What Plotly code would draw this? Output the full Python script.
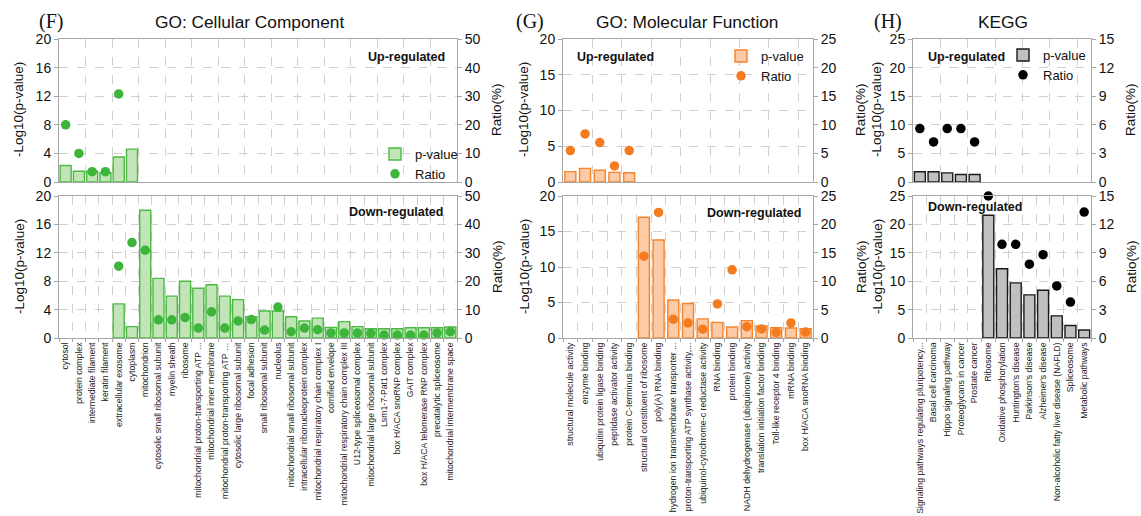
import plotly.graph_objects as go

W, H = 1141, 516

# ---------------- data ----------------
f_cats = ["cytosol", "protein complex", "intermediate filament", "keratin filament",
          "extracellular exosome", "cytoplasm", "mitochondrion",
          "cytosolic small ribosomal subunit", "myelin sheath", "ribosome",
          "mitochondrial proton-transporting ATP ...", "mitochondrial inner membrane",
          "mitochondrial proton-transporting ATP \u2026", "cytosolic large ribosomal subunit",
          "focal adhesion", "small ribosomal subunit", "nucleolus",
          "mitochondrial small ribosomal subunit", "intracellular ribonucleoprotein complex",
          "mitochondrial respiratory chain complex I", "cornified envelope",
          "mitochondrial respiratory chain complex III", "U12-type spliceosomal complex",
          "mitochondrial large ribosomal subunit", "Lsm1-7-Pat1 complex",
          "box H/ACA snoRNP complex", "GAIT complex", "box H/ACA telomerase RNP complex",
          "precatalytic spliceosome", "mitochondrial intermembrane space"]
f_up_p = [2.3, 1.5, 1.5, 1.3, 3.5, 4.6] + [None] * 24
f_up_ratio = [20, 10, 3.6, 3.6, 30.8, None] + [None] * 24
f_down_p = [None, None, None, None, 4.8, 1.6, 18.0, 8.4, 5.9, 8.0, 7.0, 7.5, 5.9, 5.4, 3.0,
            3.8, 3.8, 3.0, 2.4, 2.8, 1.5, 2.3, 1.6, 1.3, 1.3, 1.3, 1.45, 1.45, 1.45, 1.55]
f_down_ratio = [None, None, None, None, 25.3, 33.6, 30.9, 6.4, 6.4, 7.2, 3.5, 9.2, 3.5, 6.0,
                6.5, 2.8, 10.9, 2.2, 3.5, 2.9, 1.8, 1.8, 1.8, 1.6, 1.05, 1.05, 1.05, 1.05,
                1.8, 2.2]

g_cats = ["structural molecule activity", "enzyme binding", "ubiquitin protein ligase binding",
          "peptidase activator activity", "protein C-terminus binding",
          "structural constituent of ribosome", "poly(A) RNA binding",
          "hydrogen ion transmembrane transporter ...",
          "proton-transporting ATP synthase activity,...",
          "ubiquinol-cytochrome-c reductase activity", "RNA binding", "protein binding",
          "NADH dehydrogenase (ubiquinone) activity", "translation initiation factor binding",
          "Toll-like receptor 4 binding", "mRNA binding", "box H/ACA snoRNA binding"]
g_up_p = [1.45, 1.9, 1.65, 1.35, 1.3] + [None] * 12
g_up_ratio = [5.5, 8.4, 6.9, 2.8, 5.5] + [None] * 12
g_down_p = [None] * 5 + [17.0, 13.8, 5.35, 4.85, 2.7, 2.2, 1.55, 2.45, 1.7, 1.45, 1.4, 1.3]
g_down_ratio = [None] * 5 + [14.4, 22.1, 3.3, 2.65, 1.55, 6.0, 12.0, 2.0, 1.6, 1.0, 2.65, 1.05]

h_cats = ["Signaling pathways regulating pluripotency...", "Basal cell carcinoma",
          "Hippo signaling pathway", "Proteoglycans in cancer", "Prostate cancer", "Ribosome",
          "Oxidative phosphorylation", "Huntington's disease", "Parkinson's disease",
          "Alzheimer's disease", "Non-alcoholic fatty liver disease (NAFLD)", "Spliceosome",
          "Metabolic pathways"]
h_up_p = [1.8, 1.8, 1.6, 1.3, 1.3] + [None] * 8
h_up_ratio = [5.6, 4.2, 5.6, 5.6, 4.2] + [None] * 8
h_down_p = [None] * 5 + [21.6, 12.2, 9.7, 7.6, 8.4, 3.9, 2.2, 1.4]
h_down_ratio = [None] * 5 + [15.0, 9.9, 9.9, 7.8, 8.8, 5.5, 3.8, 13.3]

# ---------------- styling ----------------
FONT = "Liberation Sans, Arial, sans-serif"
AXIS_COL = "#a6a6a6"
GRID_COL = "#d0d0d0"

panels = [
    dict(cats=f_cats, up=(f_up_p, f_up_ratio), down=(f_down_p, f_down_ratio),
         xdom=(59, 457), lmax=20, ldt=4, rmax=50, rdt=10, catsize=8.7,
         fill="#c2e5b8", line="#4cb944", dot="#3cb53a", width=0.83,
         legend="legend", leg_xy=(375, 139)),
    dict(cats=g_cats, up=(g_up_p, g_up_ratio), down=(g_down_p, g_down_ratio),
         xdom=(563, 813), lmax=20, ldt=5, rmax=25, rdt=5, catsize=8.8,
         fill="#fdcaa6", line="#f5832a", dot="#f47b20", width=0.75,
         legend="legend2", leg_xy=(721, 41)),
    dict(cats=h_cats, up=(h_up_p, h_up_ratio), down=(h_down_p, h_down_ratio),
         xdom=(913, 1091), lmax=25, ldt=5, rmax=15, rdt=3, catsize=8.7,
         fill="#c0c0c0", line="#1a1a1a", dot="#000000", width=0.8,
         legend="legend3", leg_xy=(1003, 40)),
]
rows = [(39, 182), (196, 338)]

fig = go.Figure()
layout = dict()

idx = 0
for p in panels:
    for r, (ytop, ybot) in enumerate(rows):
        idx += 1
        xname = "x" if idx == 1 else f"x{idx}"
        xkey = "xaxis" if idx == 1 else f"xaxis{idx}"
        ln = 2 * idx - 1
        rn = 2 * idx
        ylname = "y" if ln == 1 else f"y{ln}"
        ylkey = "yaxis" if ln == 1 else f"yaxis{ln}"
        yrname = f"y{rn}"
        yrkey = f"yaxis{rn}"
        pvals, rvals = p["up"] if r == 0 else p["down"]
        show = (r == 0)
        fig.add_trace(go.Bar(
            x=p["cats"], y=pvals, xaxis=xname, yaxis=ylname, name="p-value",
            width=p["width"], marker=dict(color=p["fill"], line=dict(color=p["line"], width=1.4)),
            showlegend=show, legend=p["legend"], legendgroup=p["legend"] + "p"))
        fig.add_trace(go.Scatter(
            x=p["cats"], y=rvals, xaxis=xname, yaxis=yrname, name="Ratio", mode="markers",
            marker=dict(color=p["dot"], size=9.5), cliponaxis=False,
            showlegend=show, legend=p["legend"], legendgroup=p["legend"] + "r"))
        n = len(p["cats"])
        layout[xkey] = dict(
            domain=[p["xdom"][0] / W, p["xdom"][1] / W], anchor=ylname,
            type="category", categoryorder="array", categoryarray=p["cats"],
            range=[-0.5, n - 0.5], tickson="boundaries",
            showgrid=True, gridcolor=GRID_COL, griddash="dash", gridwidth=1,
            showline=True, linecolor=AXIS_COL, linewidth=1, mirror=True,
            ticks="outside" if r == 1 else "", ticklen=3, tickcolor=AXIS_COL,
            showticklabels=(r == 1), tickangle=-90,
            tickfont=dict(family=FONT, size=p["catsize"], color="#222"), automargin=False)
        layout[ylkey] = dict(
            domain=[1 - ybot / H, 1 - ytop / H], anchor=xname,
            range=[0, p["lmax"]], dtick=p["ldt"], tick0=0,
            showgrid=True, gridcolor=GRID_COL, griddash="dash", gridwidth=1,
            zeroline=False, showline=True, linecolor=AXIS_COL, linewidth=1,
            ticks="outside", ticklen=4, tickcolor=AXIS_COL,
            tickfont=dict(family=FONT, size=14, color="#111"), automargin=False)
        layout[yrkey] = dict(
            overlaying=ylname, side="right", anchor=xname,
            range=[0, p["rmax"]], dtick=p["rdt"], tick0=0,
            showgrid=False, zeroline=False, showline=True, linecolor=AXIS_COL, linewidth=1,
            ticks="outside", ticklen=4, tickcolor=AXIS_COL,
            tickfont=dict(family=FONT, size=14, color="#111"), automargin=False)

# legends
for p in panels:
    lx, ly = p["leg_xy"]
    layout[p["legend"]] = dict(
        x=lx / W, y=1 - ly / H, xanchor="left", yanchor="top",
        bgcolor="rgba(0,0,0,0)", borderwidth=0, tracegroupgap=0,
        itemwidth=30, font=dict(family=FONT, size=13, color="#111"))

anns = []
def ann(text, x, y, size, family=FONT, bold=False, angle=0, xanchor="center"):
    anns.append(dict(text=f"<b>{text}</b>" if bold else text, x=x / W, y=1 - y / H,
                     xref="paper", yref="paper", showarrow=False, textangle=angle,
                     xanchor=xanchor, yanchor="middle",
                     font=dict(family=family, size=size, color="#111")))

SERIF = "Liberation Serif, Times New Roman, serif"
ann("(F)", 51, 22, 20, SERIF)
ann("GO: Cellular Component", 249, 22, 17.3)
ann("(G)", 530, 22, 20, SERIF)
ann("GO: Molecular Function", 687, 22, 17.3)
ann("(H)", 888, 22, 20, SERIF)
ann("KEGG", 1003, 22, 17.3)

for xl, xr in [(19, 497), (524, 861), (877, 1131)]:
    for yc in (110, 267):
        ann("-Log10(p-value)", xl, yc, 13.5, angle=-90)
        ann("Ratio(%)", xr, yc, 13.5, angle=-90)

ann("Up-regulated", 447, 57, 12.5, bold=True, xanchor="right")
ann("Down-regulated", 445, 212, 12.5, bold=True, xanchor="right")
ann("Up-regulated", 575, 57, 12.5, bold=True, xanchor="left")
ann("Down-regulated", 803, 213, 12.5, bold=True, xanchor="right")
ann("Up-regulated", 926, 57, 12.5, bold=True, xanchor="left")
ann("Down-regulated", 926, 207, 12.5, bold=True, xanchor="left")

layout.update(dict(
    width=W, height=H, margin=dict(l=0, r=0, t=0, b=0),
    paper_bgcolor="white", plot_bgcolor="white",
    font=dict(family=FONT, color="#111"),
    barmode="overlay", annotations=anns))
fig.update_layout(**layout)
fig.write_html("out.html", config={"displayModeBar": False},
               post_script="document.body.style.margin='0px';document.body.style.padding='0px';")
